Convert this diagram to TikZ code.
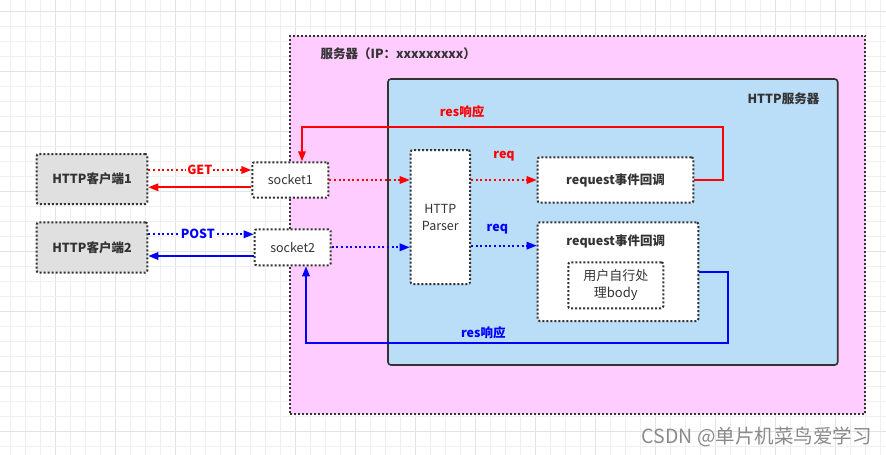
\documentclass[tikz,border=0pt]{standalone}
\usepackage{fontspec}
\setmainfont{Noto Sans CJK SC}
\usetikzlibrary{arrows.meta}
\definecolor{pinkfill}{HTML}{FFCCFF}
\definecolor{bluefill}{HTML}{BADDF8}
\definecolor{grayfill}{HTML}{E0E0E0}
\definecolor{darktxt}{HTML}{333333}
\definecolor{gridminor}{HTML}{EFEFEF}
\definecolor{gridmajor}{HTML}{E3E3E3}
\definecolor{wmgray}{HTML}{8A8A8A}
\tikzset{
  dotbox/.style={draw=darktxt, line width=2pt, dash pattern=on 2pt off 2pt, rounded corners=2pt, inner sep=0pt, text=darktxt, font=\fontsize{12.5}{17}\selectfont, align=center},
  whitebox/.style={dotbox, fill=white},
  graybox/.style={dotbox, fill=grayfill, font=\bfseries\fontsize{12.5}{17}\selectfont},
  boldlbl/.style={text=darktxt, font=\bfseries\fontsize{12.5}{17}\selectfont, inner sep=0pt},
  tip/.style={-{Triangle[length=10pt,width=7.5pt]}},
  reddot/.style={tip, draw=red, line width=1.8pt, dash pattern=on 2pt off 2.6pt},
  bluedot/.style={tip, draw=blue, line width=1.8pt, dash pattern=on 2pt off 2.6pt},
  redline/.style={tip, draw=red, line width=1.8pt},
  blueline/.style={tip, draw=blue, line width=1.8pt},
  redlbl/.style={text=red, font=\bfseries\fontsize{12.5}{15}\selectfont, inner sep=1pt},
  bluelbl/.style={text=blue, font=\bfseries\fontsize{12.5}{15}\selectfont, inner sep=1pt},
}
\begin{document}
\begin{tikzpicture}[x=1pt,y=-1pt]
\useasboundingbox (0,0) rectangle (886,455);
\fill[white] (0,0) rectangle (886,455);
% grid
\foreach \i in {0,...,58} {
  \pgfmathsetmacro{\gx}{10.7+15*\i}
  \pgfmathtruncatemacro{\m}{mod(\i,4)}
  \ifnum\m=3 \draw[gridmajor, line width=0.9pt] (\gx,0) -- (\gx,455);
  \else \draw[gridminor, line width=0.9pt] (\gx,0) -- (\gx,455); \fi
}
\foreach \j in {0,...,29} {
  \pgfmathsetmacro{\gy}{11.7+15*\j}
  \pgfmathtruncatemacro{\m}{mod(\j,4)}
  \ifnum\m=0 \draw[gridmajor, line width=0.9pt] (0,\gy) -- (886,\gy);
  \else \draw[gridminor, line width=0.9pt] (0,\gy) -- (886,\gy); \fi
}
% containers
\node[dotbox, fill=pinkfill, rounded corners=0pt, minimum width=575pt, minimum height=378.5pt] (server) at (577.5,224.75) {};
\node[boldlbl, anchor=west] (servertitle) at (320.5,54) {服务器（IP：xxxxxxxxx）};
\node[draw=darktxt, solid, line width=1.6pt, fill=bluefill, rounded corners=3pt, minimum width=449.7pt, minimum height=286pt, inner sep=0pt] (httpserver) at (612.85,222) {};
\node[boldlbl, anchor=east] (httptitle) at (819.5,99) {HTTP服务器};
% clients
\node[graybox, minimum width=110.6pt, minimum height=50pt] (c1) at (92,179) {HTTP客户端1};
\node[graybox, minimum width=110.6pt, minimum height=50.4pt] (c2) at (92,247.5) {HTTP客户端2};
% sockets
\node[whitebox, minimum width=76pt, minimum height=35.4pt] (s1) at (290.3,180) {socket1};
\node[whitebox, minimum width=76pt, minimum height=36pt] (s2) at (292.7,247.3) {socket2};
% parser
\node[whitebox, minimum width=59.3pt, minimum height=134pt] (parser) at (440.35,217) {HTTP\\Parser};
% request boxes
\node[whitebox, font=\bfseries\fontsize{12.5}{17}\selectfont, minimum width=155.6pt, minimum height=45.4pt] (r1) at (615.5,180) {request事件回调};
\node[whitebox, minimum width=160.6pt, minimum height=98.7pt] (r2) at (618,271.65) {};
\node[boldlbl] (r2title) at (615.7,241.3) {request事件回调};
\node[whitebox, font=\fontsize{13}{16.7}\selectfont, minimum width=95pt, minimum height=46pt] (inner) at (615.8,285.3) {用户自行处\\理body};
% client <-> socket
\path ([yshift=9pt]c1.east) coordinate (getA);
\draw[reddot] (getA) -- node[redlbl, fill=white, pos=0.5] (getlbl) {GET} (getA -| s1.west);
\path ([yshift=-7.3pt]s1.west) coordinate (retA);
\draw[redline] (retA) -- (retA -| c1.east);
\path ([yshift=13.2pt]c2.east) coordinate (postA);
\draw[bluedot] (postA) -- node[bluelbl, fill=white, pos=0.47] (postlbl) {POST} (postA -| s2.west);
\path ([yshift=-8.7pt]s2.west) coordinate (retB);
\draw[blueline] (retB) -- (retB -| c2.east);
% socket -> parser
\draw[reddot] (s1.east) -- (s1.east -| parser.west);
\draw[bluedot] (s2.east) -- (s2.east -| parser.west);
% parser -> request
\draw[reddot] (r1.west -| parser.east) -- (r1.west);
\node[redlbl] (req1) at (504,156) {req};
\path ([yshift=26pt]r2.west) coordinate (reqB);
\draw[bluedot] (reqB -| parser.east) -- (reqB);
\node[bluelbl] (req2) at (497.3,229) {req};
% responses
\coordinate (redR) at (723.3,127);
\draw[redline] (r1.east) -| (redR) -| ([xshift=11.7pt]s1.north);
\node[redlbl] (res1) at (462,112) {res响应};
\coordinate (blueR) at (728.3,343.3);
\draw[blueline] ([yshift=-0.6pt]r2.east) -| (blueR) -| ([xshift=13.3pt]s2.south);
\node[bluelbl] (res2) at (483.3,332.3) {res响应};
% watermark
\node[text=wmgray, font=\fontsize{19.5}{21}\selectfont, anchor=east, inner sep=0pt] (wm) at (872,437) {CSDN @单片机菜鸟爱学习};
\end{tikzpicture}
\end{document}
